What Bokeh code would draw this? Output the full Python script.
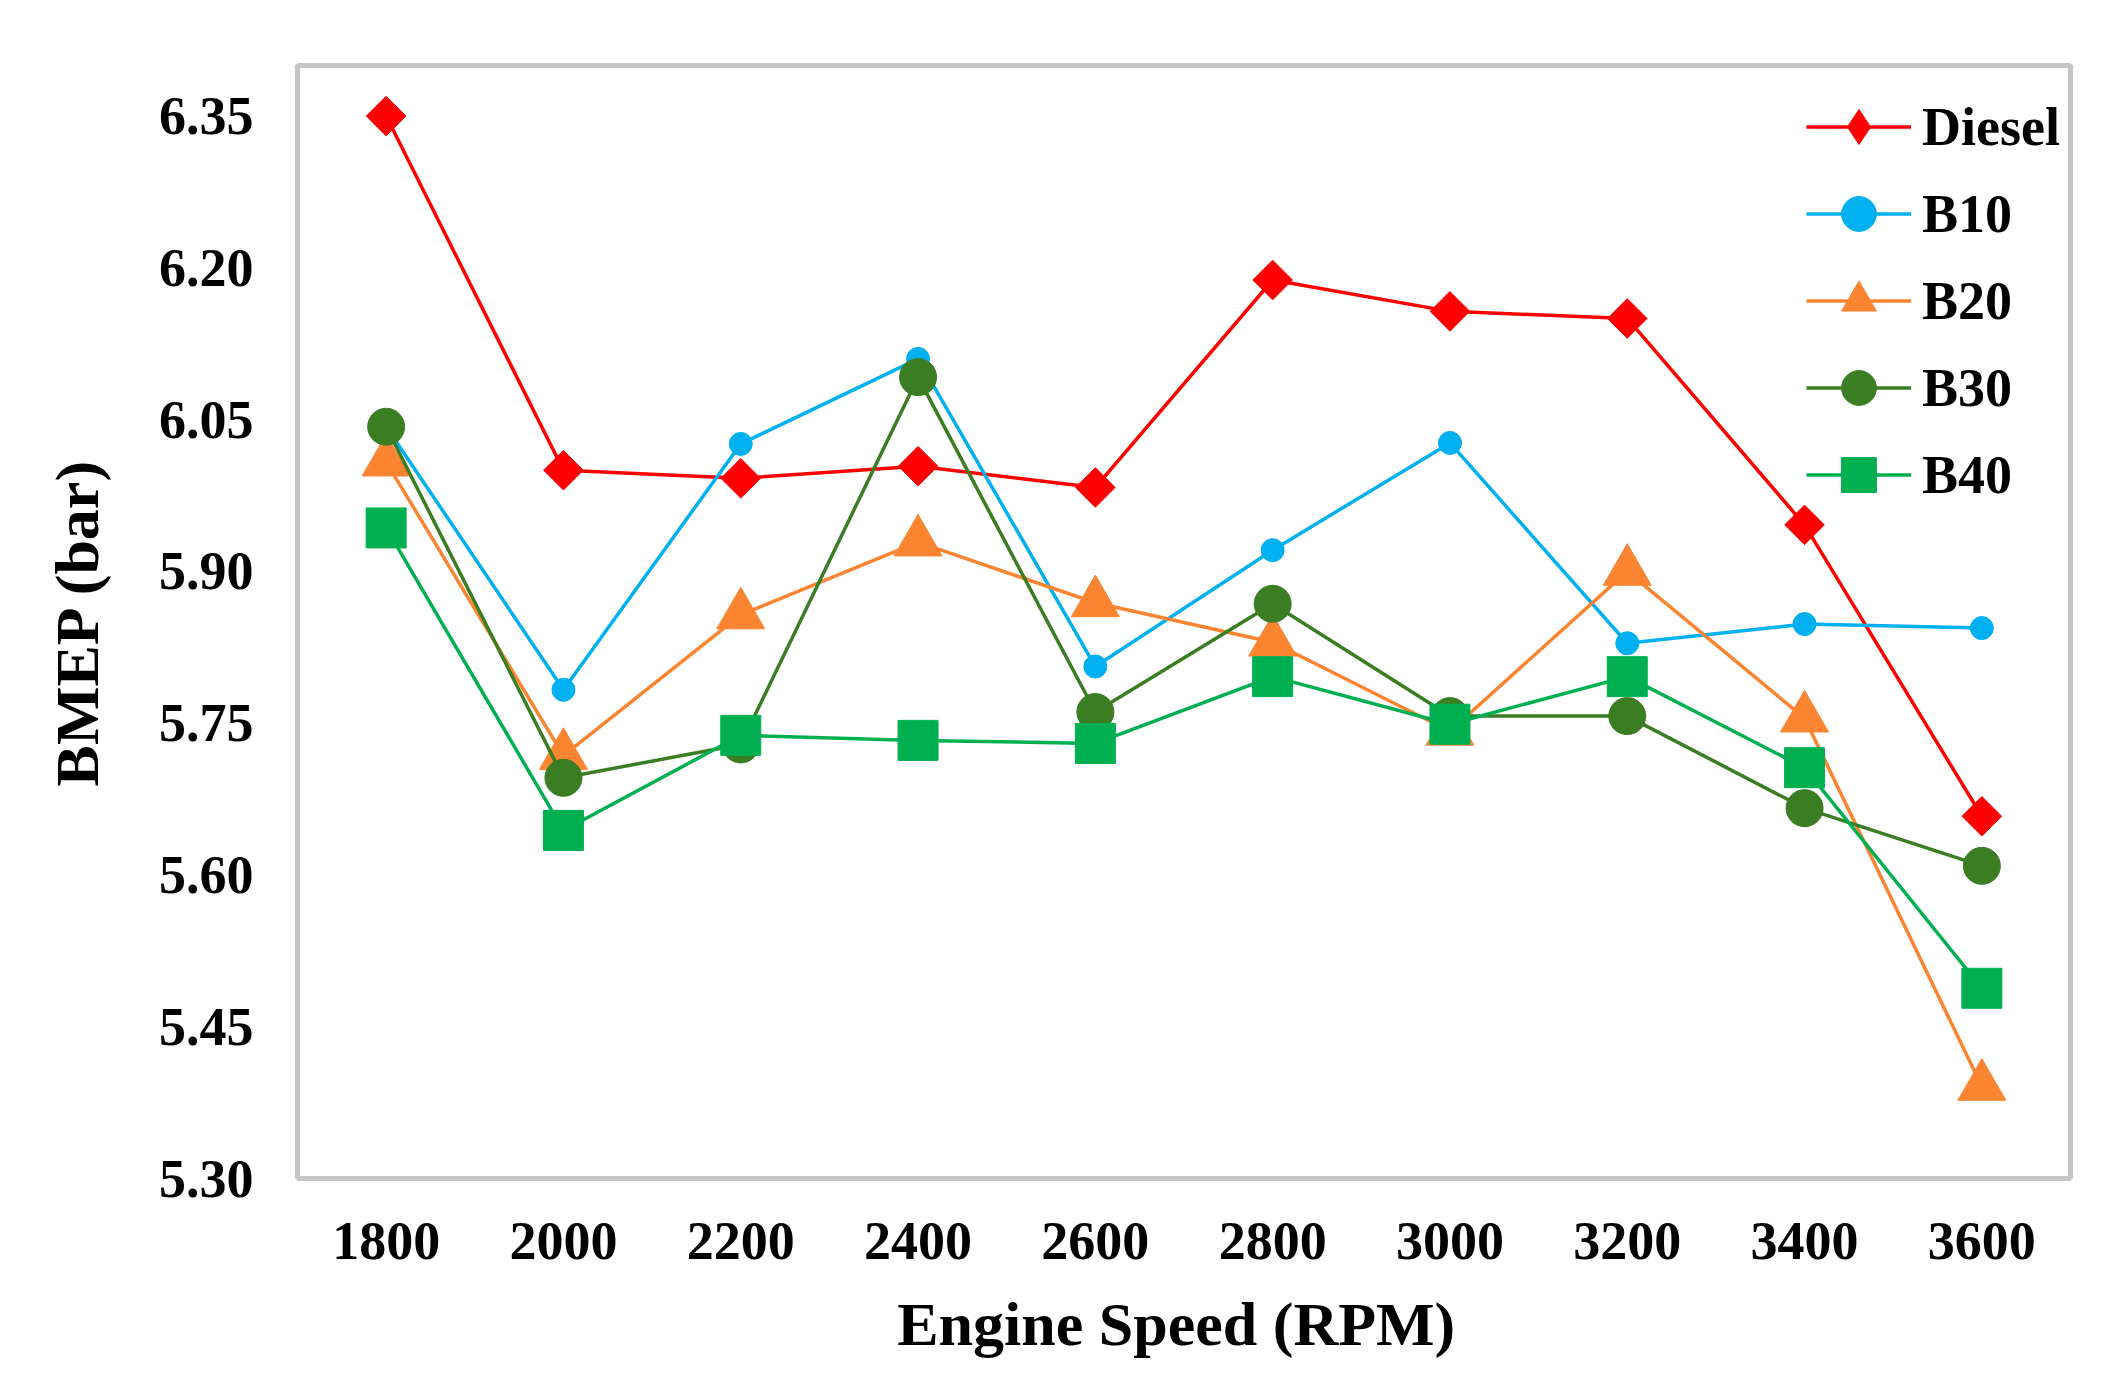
import numpy as np
from bokeh.plotting import figure
from bokeh.models import FixedTicker, NumeralTickFormatter, Legend, LegendItem, Range1d
from bokeh.embed import file_html
from bokeh.resources import INLINE

rpm = [1800, 2000, 2200, 2400, 2600, 2800, 3000, 3200, 3400, 3600]
diesel = [6.350, 6.000, 5.992, 6.004, 5.983, 6.188, 6.157, 6.150, 5.946, 5.658]
b10 = [6.043, 5.783, 6.026, 6.110, 5.806, 5.921, 6.027, 5.829, 5.848, 5.844]
b20 = [6.008, 5.718, 5.857, 5.929, 5.869, 5.830, 5.742, 5.900, 5.755, 5.391]
b30 = [6.043, 5.696, 5.729, 6.092, 5.761, 5.868, 5.757, 5.757, 5.666, 5.609]
b40 = [5.943, 5.644, 5.738, 5.733, 5.730, 5.796, 5.749, 5.796, 5.706, 5.488]
y_ticks = [5.30, 5.45, 5.60, 5.75, 5.90, 6.05, 6.20, 6.35]

FONT = "Liberation Serif"

p = figure(width=2110, height=1366, output_backend="svg", toolbar_location=None,
           x_range=Range1d(1700, 3700), y_range=Range1d(5.30, 6.40),
           min_border_left=297, min_border_right=40, min_border_top=65, min_border_bottom=188)
p.background_fill_color = "white"
p.border_fill_color = "white"
p.outline_line_color = "#c6c6c6"
p.outline_line_width = 5
p.xgrid.grid_line_color = None
p.ygrid.grid_line_color = None

for ax in (p.xaxis[0], p.yaxis[0]):
    ax.axis_line_color = None
    ax.major_tick_line_color = None
    ax.minor_tick_line_color = None
    ax.major_tick_out = 0
    ax.major_tick_in = 0
    ax.major_label_text_font = FONT
    ax.major_label_text_font_style = "bold"
    ax.major_label_text_font_size = "54px"
    ax.major_label_text_color = "black"
    ax.axis_label_text_font = FONT
    ax.axis_label_text_font_style = "bold"
    ax.axis_label_text_font_size = "62px"
    ax.axis_label_text_color = "black"

p.xaxis.ticker = FixedTicker(ticks=rpm)
p.yaxis.ticker = FixedTicker(ticks=y_ticks)
p.yaxis.formatter = NumeralTickFormatter(format="0.00")
p.xaxis.axis_label = "Engine  Speed (RPM)"
p.yaxis.axis_label = "BMEP (bar)"
p.xaxis.major_label_standoff = 44
p.yaxis.major_label_standoff = 44
p.xaxis.axis_label_standoff = 28
p.yaxis.axis_label_standoff = 45

# name, values, colour, marker, size, angle
series = [
    ("Diesel", diesel, "#ff0000", "square", 28, np.pi / 4),
    ("B10", b10, "#00b0f0", "circle", 23, 0.0),
    ("B20", b20, "#fb8431", "triangle", 48, 0.0),
    ("B30", b30, "#3a7d22", "circle", 37, 0.0),
    ("B40", b40, "#00b050", "square", 40, 0.0),
]

items = []
for name, vals, col, mk, sz, ang in series:
    ln = p.line(rpm, vals, line_color=col, line_width=3.5)
    sc = p.scatter(rpm, vals, marker=mk, size=sz, angle=ang, fill_color=col, line_color=col)
    if name == "Diesel":
        # legend-only diamond symbol (kept hidden in the plot area)
        lg = p.scatter(rpm, vals, marker="diamond", size=30, fill_color=col, line_color=col, visible=False)
        items.append(LegendItem(label=name, renderers=[ln, lg]))
    else:
        items.append(LegendItem(label=name, renderers=[ln, sc]))

legend = Legend(items=items, location=(1509, 660), padding=0, margin=0, spacing=0,
                glyph_width=105, glyph_height=87, label_standoff=11,
                label_text_font=FONT, label_text_font_style="bold",
                label_text_font_size="54px", label_text_color="black",
                border_line_color=None, background_fill_alpha=0)
p.add_layout(legend, "center")

open("out.html", "w").write(file_html(p, INLINE))
